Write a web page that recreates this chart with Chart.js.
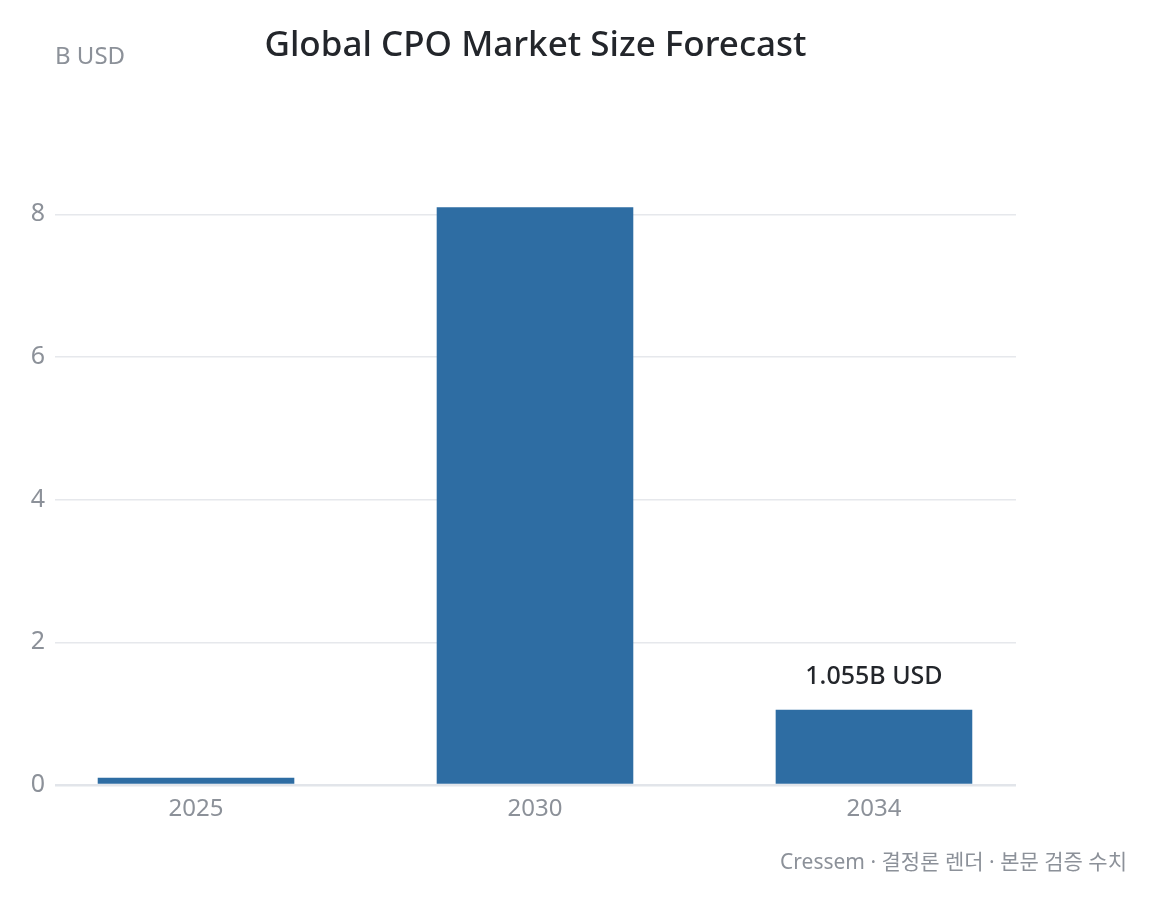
<!DOCTYPE html>
<html>
<head>
<meta charset="utf-8">
<script src="https://cdn.jsdelivr.net/npm/chart.js@4"></script>
<style>
  html, body { margin: 0; padding: 0; background: #fff; }
  #wrap { width: 1155px; height: 903px; }
</style>
</head>
<body>
<div id="wrap"><canvas id="cpoChart"></canvas></div>
<script>
const years = ["2025", "2030", "2034"];
const marketSize = [0.1, 8.1, 1.055];
const valueLabels = ["", "", "1.055B USD"];
const yTicks = [0, 2, 4, 6, 8];

const titleText = "Global CPO Market Size Forecast";
const unitText = "B USD";
const footerText = "Cressem · 결정론 렌더 · 본문 검증 수치";

const FONT = '"Noto Sans", "Noto Sans CJK KR", sans-serif';
const GRAY = "#8c9199";

// titel, eenheid, bron en waardelabel
const textPlugin = {
  id: "texts",
  afterDraw(chart) {
    const ctx = chart.ctx;
    const area = chart.chartArea;
    ctx.save();
    ctx.textBaseline = "middle";

    ctx.fillStyle = "#23262b";
    ctx.font = "500 35px " + FONT;
    ctx.textAlign = "center";
    ctx.fillText(titleText, (area.left + area.right) / 2, 46);

    ctx.fillStyle = GRAY;
    ctx.font = "24px " + FONT;
    ctx.textAlign = "left";
    ctx.fillText(unitText, 55, 57);

    ctx.font = "21px " + FONT;
    ctx.textAlign = "right";
    ctx.fillText(footerText, 1127, 863);

    const meta = chart.getDatasetMeta(0);
    ctx.fillStyle = "#23262b";
    ctx.font = "500 25px " + FONT;
    ctx.textAlign = "center";
    meta.data.forEach((bar, i) => {
      if (valueLabels[i]) ctx.fillText(valueLabels[i], bar.x, bar.y - 33);
    });
    ctx.restore();
  }
};

const ctx = document.getElementById("cpoChart").getContext("2d");
new Chart(ctx, {
  type: "bar",
  data: {
    labels: years,
    datasets: [
      {
        label: "CPO market",
        data: marketSize,
        backgroundColor: "#2e6da3",
        borderWidth: 0,
        categoryPercentage: 1,
        barPercentage: 0.58,
      },
    ],
  },
  options: {
    responsive: true,
    maintainAspectRatio: false,
    animation: false,
    layout: { padding: { left: 0, right: 139, top: 143, bottom: 68 } },
    plugins: {
      legend: { display: false },
      tooltip: { enabled: false },
    },
    scales: {
      x: {
        grid: { display: false },
        border: { display: false },
        ticks: {
          color: GRAY,
          font: { family: FONT, size: 24 },
          padding: 2,
        },
        afterFit(scale) { scale.height = 50; },
        afterBuildTicks(scale) {
          // balken iets naar buiten schuiven t.o.v. de rasterlijnen
          scale._startValue = -0.416;
          scale._valueRange = 2.835;
        },
      },
      y: {
        min: 0,
        max: 9,
        border: { display: false },
        grid: {
          color: (c) => (c.tick && c.tick.value === 0 ? "#e2e5ea" : "#e6e8ec"),
          lineWidth: (c) => (c.tick && c.tick.value === 0 ? 2.5 : 1.5),
          drawTicks: false,
        },
        afterBuildTicks(scale) {
          scale.ticks = yTicks.map((v) => ({ value: v }));
        },
        ticks: {
          color: GRAY,
          font: { family: FONT, size: 25 },
          padding: 10,
        },
        afterFit(scale) { scale.width = 55; },
      },
    },
  },
  plugins: [textPlugin],
});
</script>
</body>
</html>
